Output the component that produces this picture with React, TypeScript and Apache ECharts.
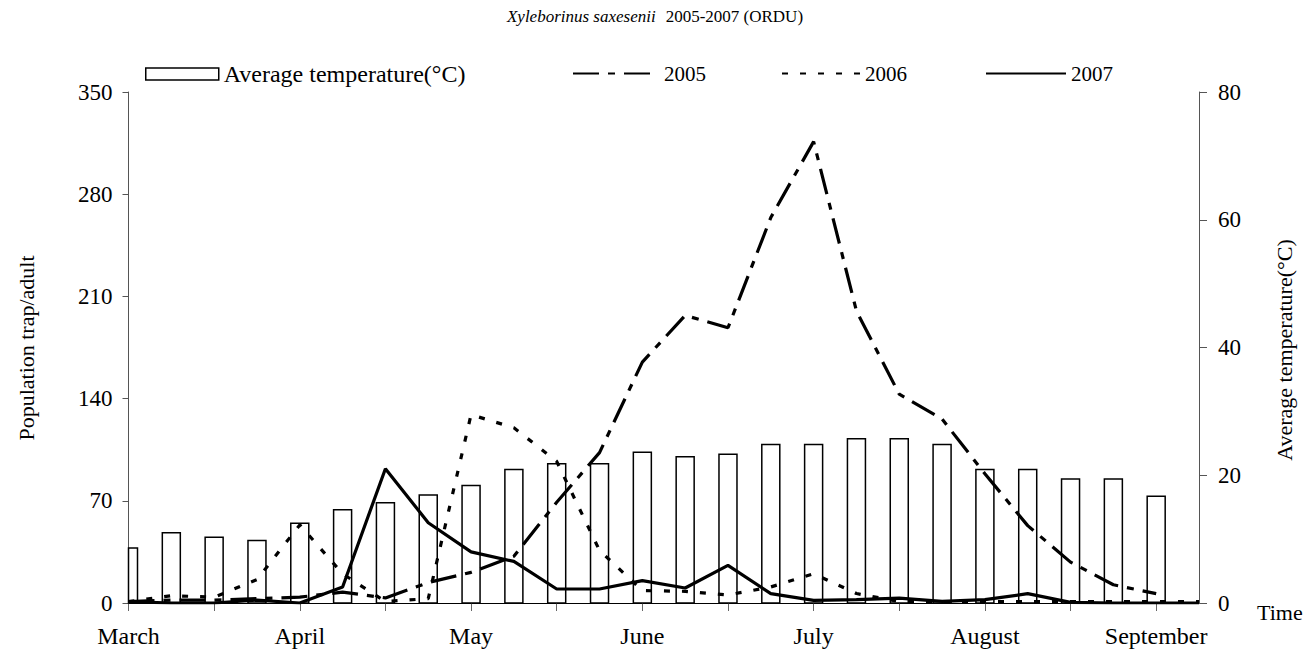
import React, { useEffect, useRef } from "react";
import * as echarts from "echarts";

const months = ["March", "April", "May", "June", "July", "August", "September"];
const temps = [8.6, 11.0, 10.3, 9.8, 12.5, 14.6, 15.7, 16.9, 18.4, 20.9, 21.8, 21.8, 23.6, 22.9, 23.3, 24.8, 24.8, 25.7, 25.7, 24.8, 20.9, 20.9, 19.4, 19.4, 16.7];
const y2005 = [1, 2, 2, 3, 4, 7.5, 3.5, 14, 21, 32, 69, 103, 165, 197, 188.5, 264, 316, 200, 143, 126, 88.5, 53, 28, 12.5, 6.4];
const y2006 = [1, 5, 4, 16, 53.5, 20, 1, 3, 129, 120, 97, 36, 8.5, 8, 5.5, 11, 20, 6.5, 1, 1, 1, 1, 1, 1, 1, 1];
const y2007 = [1, 0, 0, 2, 0, 11, 92, 55, 35, 28.5, 9.6, 9.6, 15.3, 10.3, 25.8, 6.4, 1.8, 2.3, 3.4, 1.1, 2.3, 6.4, 0.4, 0, 0, 0];
const leftTicks = [0, 70, 140, 210, 280, 350];
const rightTicks = [0, 20, 40, 60, 80];

const FONT = '"Liberation Serif", "Times New Roman", serif';

export default function App() {
  const ref = useRef<HTMLDivElement>(null);
  useEffect(() => {
    document.body.style.margin = "0";
    const chart = echarts.init(ref.current!, null, { renderer: "svg" });
    const tickVals = [0, 2, 4, 6, 8, 10, 12, 14, 16, 18, 20, 22, 24];
    const labelVals = months.map((_, i) => i * 4);
    const fs = 23;
    const legendBase = {
      top: 63,
      padding: 0,
      itemHeight: 12,
      textStyle: { fontFamily: FONT, fontSize: 21, color: "#000" },
      selectedMode: false,
    };
    const hideSym = { itemStyle: { opacity: 0 } };
    chart.setOption({
      animation: false,
      backgroundColor: "#fff",
      textStyle: { fontFamily: FONT },
      grid: { left: 128.5, right: 110, top: 92, bottom: 50 },
      legend: [
        {
          ...legendBase,
          top: 62,
          left: 145,
          itemWidth: 73,
          icon: "rect",
          textStyle: { fontFamily: FONT, fontSize: 24, color: "#000" },
          itemStyle: { color: "#fff", borderColor: "#000", borderWidth: 1.5 },
          data: ["Average temperature(°C)"],
        },
        { ...legendBase, ...hideSym, left: 572, itemWidth: 86, data: ["2005"] },
        { ...legendBase, ...hideSym, left: 781, itemWidth: 78, data: ["2006"] },
        { ...legendBase, ...hideSym, left: 985, itemWidth: 80, data: ["2007"] },
      ],
      xAxis: {
        type: "value",
        min: 0,
        max: 25,
        interval: 2,
        axisLine: { show: true, lineStyle: { color: "#000", width: 1 } },
        axisTick: { show: true, length: 8, customValues: tickVals, lineStyle: { color: "#666" } },
        axisLabel: {
          customValues: labelVals,
          formatter: (v: number) => (v % 4 === 0 && v <= 24 ? months[v / 4] : ""),
          fontFamily: FONT,
          fontSize: 24,
          color: "#000",
          margin: 21,
        },
        splitLine: { show: false },
      },
      yAxis: [
        {
          type: "value",
          min: 0,
          max: 350,
          interval: 70,
          axisLine: { show: true, lineStyle: { color: "#555" } },
          axisTick: { show: true, length: 6, lineStyle: { color: "#555" } },
          axisLabel: { fontFamily: FONT, fontSize: fs, color: "#000", margin: 16, customValues: leftTicks },
          splitLine: { show: false },
        },
        {
          type: "value",
          position: "right",
          min: 0,
          max: 80,
          interval: 20,
          axisLine: { show: true, lineStyle: { color: "#555" } },
          axisTick: { show: true, length: 8, lineStyle: { color: "#555" } },
          axisLabel: { fontFamily: FONT, fontSize: fs, color: "#000", margin: 19, customValues: rightTicks },
          splitLine: { show: false },
        },
      ],
      series: [
        {
          name: "Average temperature(°C)",
          type: "custom",
          yAxisIndex: 1,
          itemStyle: { color: "#fff", borderColor: "#000", borderWidth: 1.5 },
          encode: { x: 0, y: 1 },
          data: temps.map((v, i) => [i, v]),
          renderItem: (params: any, api: any) => {
            const x = api.value(0);
            const v = api.value(1);
            const top = api.coord([x, v]);
            const base = api.coord([x, 0]);
            const w = 18;
            const cs = params.coordSys;
            const rect = echarts.graphic.clipRectByRect(
              { x: top[0] - w / 2, y: top[1], width: w, height: base[1] - top[1] },
              { x: cs.x, y: cs.y, width: cs.width, height: cs.height }
            );
            if (!rect) return null;
            return {
              type: "rect",
              shape: rect,
              style: { fill: "#fff", stroke: "#000", lineWidth: 1.5 },
            };
          },
          z: 1,
        },
        {
          name: "2005",
          type: "line",
          symbol: "none",
          lineStyle: { color: "#000", width: 3.2, type: [26, 9, 7, 9] },
          itemStyle: { color: "#000" },
          data: y2005.map((v, i) => [i, v]),
          z: 3,
        },
        {
          name: "2006",
          type: "line",
          symbol: "none",
          lineStyle: { color: "#000", width: 3.2, type: [6, 12] },
          itemStyle: { color: "#000" },
          data: y2006.map((v, i) => [i, v]),
          z: 3,
        },
        {
          name: "2007",
          type: "line",
          symbol: "none",
          lineStyle: { color: "#000", width: 3.2, type: "solid" },
          itemStyle: { color: "#000" },
          data: y2007.map((v, i) => [i, v]),
          z: 3,
        },
      ],
      graphic: [
        {
          type: "text",
          x: 655,
          y: 16,
          style: {
            text: "{i|Xyleborinus saxesenii}   {n|2005-2007 (ORDU)}",
            align: "center",
            verticalAlign: "middle",
            rich: {
              i: { fontFamily: FONT, fontSize: 17, fontStyle: "italic", fill: "#000" },
              n: { fontFamily: FONT, fontSize: 17, fill: "#000" },
            },
          },
        },
        {
          type: "text",
          x: 26,
          y: 348,
          rotation: Math.PI / 2,
          style: { text: "Population trap/adult", fontFamily: FONT, fontSize: 22, fill: "#000", align: "center", verticalAlign: "middle" },
        },
        {
          type: "text",
          x: 1284,
          y: 350,
          rotation: Math.PI / 2,
          style: { text: "Average temperature(°C)", fontFamily: FONT, fontSize: 22, fill: "#000", align: "center", verticalAlign: "middle" },
        },
        {
          type: "text",
          x: 1257,
          y: 612,
          style: { text: "Time", fontFamily: FONT, fontSize: 22, fill: "#000", align: "left", verticalAlign: "middle" },
        },
      ],
    });
    return () => chart.dispose();
  }, []);
  return <div ref={ref} style={{ width: 1309, height: 653 }} />;
}
